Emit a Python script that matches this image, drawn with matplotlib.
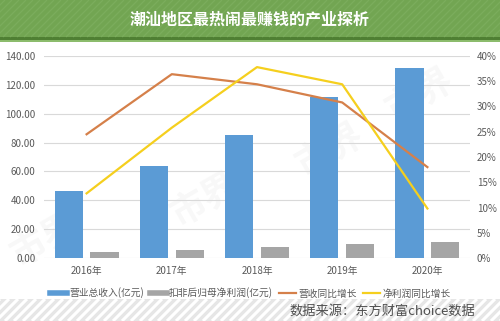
import numpy as np
import matplotlib.pyplot as plt
from matplotlib.patches import Rectangle
from matplotlib.lines import Line2D

plt.rcParams['font.family'] = ['Noto Sans CJK SC', 'DejaVu Sans']

# data
years = ['2016年', '2017年', '2018年', '2019年', '2020年']
revenue = [46.4, 63.8, 85.2, 111.4, 131.5]       # 营业总收入(亿元)
net_profit = [4.4, 5.3, 7.4, 9.9, 11.1]         # 扣非后归母净利润(亿元)
rev_growth = [24.5, 36.4, 34.4, 30.8, 18.0]     # 营收同比增长 %
profit_growth = [12.8, 25.8, 37.8, 34.4, 9.8]   # 净利润同比增长 %

left_ticks = np.arange(0, 141, 20)
right_ticks = np.arange(0, 41, 5)

c_blue = '#5b9bd5'
c_gray = '#a5a5a5'
c_orange = '#d5804a'
c_yellow = '#f5cf1e'
c_text = '#595959'

W, H = 500, 321
fig = plt.figure(figsize=(W / 100, H / 100), dpi=100)
fig.patch.set_facecolor('white')

# background layer: banner on top, striped band at the bottom
bg = fig.add_axes([0, 0, 1, 1], zorder=0)
bg.set_xlim(0, W)
bg.set_ylim(H, 0)
bg.axis('off')

bg.add_patch(Rectangle((0, 0), W, 37, color='#72a552', lw=0))
bg.add_patch(Rectangle((0, 37), W, 2.5, color='#4f7f33', lw=0))
bg.add_patch(Rectangle((0, 39.5), W, 2, color='#8cbc6c', lw=0))
for x0 in np.arange(-60, W + 60, 7):
    bg.plot([x0, x0 + 37], [37, 0], color='#7cad5d', lw=0.9, solid_capstyle='butt')
bg.text(250, 20, '潮汕地区最热闹最赚钱的产业探析', color='white', fontsize=11.5,
        fontweight='bold', ha='center', va='center')

bg.add_patch(Rectangle((0, 299), W, 22, color='#e6e6e6', lw=0))
for x0 in np.arange(-40, W + 40, 9):
    bg.plot([x0, x0 + 22], [321, 299], color='white', lw=2.2, solid_capstyle='butt')
bg.text(475, 311, '数据来源：东方财富choice数据', color='#505050', fontsize=9.5,
        ha='right', va='center')

# faint watermarks
for wx, wy in [(45, 240), (205, 200), (420, 95), (330, 150)]:
    bg.text(wx, wy, '市界', color='#000000', alpha=0.03, fontsize=26,
            fontweight='bold', rotation=30, ha='center', va='center')

# main chart
ax = fig.add_axes([44 / W, 1 - 258 / H, 426 / W, 202 / H], zorder=2)
ax.patch.set_alpha(0)
x = np.arange(len(years))
bw = 0.33
ax.bar(x - 0.21, revenue, bw, color=c_blue, zorder=3)
ax.bar(x + 0.21, net_profit, bw, color=c_gray, zorder=3)
ax.set_xlim(-0.5, len(years) - 0.5)
ax.set_ylim(0, 140)
ax.set_yticks(left_ticks)
ax.set_yticklabels(['%.2f' % v for v in left_ticks])
ax.set_xticks(x)
ax.set_xticklabels(years)
ax.grid(axis='y', color='#d9d9d9', lw=0.8, zorder=0)
for s in ax.spines.values():
    s.set_visible(False)
ax.tick_params(length=0, labelsize=7, colors=c_text, pad=6)

ax2 = ax.twinx()
ax2.plot(x, rev_growth, color=c_orange, lw=1.6, zorder=4)
ax2.plot(x, profit_growth, color=c_yellow, lw=1.6, zorder=4)
ax2.set_ylim(0, 40)
ax2.set_yticks(right_ticks)
ax2.set_yticklabels(['%d%%' % v for v in right_ticks])
for s in ax2.spines.values():
    s.set_visible(False)
ax2.tick_params(length=0, labelsize=7, colors=c_text, pad=5)

handles = [
    Line2D([], [], color=c_blue, lw=4),
    Line2D([], [], color=c_gray, lw=4),
    Line2D([], [], color=c_orange, lw=1.6),
    Line2D([], [], color=c_yellow, lw=1.6),
]
labels = ['营业总收入(亿元)', '扣非后归母净利润(亿元)', '营收同比增长', '净利润同比增长']
fig.legend(handles, labels, loc='center', bbox_to_anchor=(0.5, 1 - 293 / H), ncol=4,
           frameon=False, fontsize=7, handlelength=1.8, handletextpad=0.2,
           columnspacing=0.6, labelcolor=c_text)

fig.savefig('out.png', dpi=100)
